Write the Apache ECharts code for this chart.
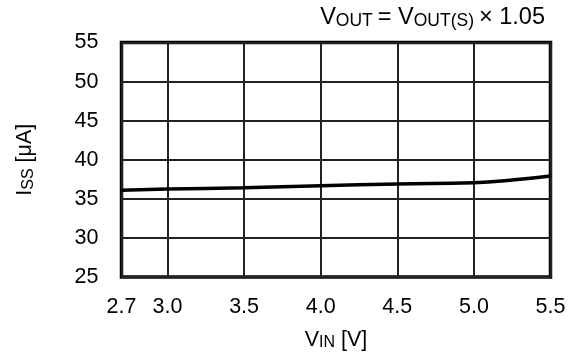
<!DOCTYPE html>
<html>
<head>
<meta charset="utf-8">
<script src="https://cdn.jsdelivr.net/npm/echarts@6/dist/echarts.min.js"></script>
<style>
html,body{margin:0;padding:0;background:#fff;}
#chart{width:579px;height:359px;}
</style>
</head>
<body>
<div id="chart"></div>
<script>
// Data
const vin = [2.7, 3.0, 3.5, 4.0, 4.5, 5.0, 5.25, 5.5];
const iss = [36.1, 36.25, 36.42, 36.67, 36.9, 37.06, 37.4, 37.92];
const xTicks = [2.7, 3.0, 3.5, 4.0, 4.5, 5.0, 5.5];
const yTicks = [25, 30, 35, 40, 45, 50, 55];

const FONT = '"Liberation Sans", Arial, sans-serif';
const FS = 21.5;
const FSS = 16;
const chart = echarts.init(document.getElementById('chart'), null, {renderer: 'canvas'});

const rich = {
  a: {fontSize: FS, color: '#000', fontFamily: FONT, fontWeight: 'normal'},
  b: {fontSize: FSS, color: '#000', fontFamily: FONT, fontWeight: 'normal', verticalAlign: 'bottom'}
};
const titleRich = {
  a: {fontSize: 23.5, color: '#000', fontFamily: FONT, fontWeight: 'normal'},
  b: {fontSize: 17.5, color: '#000', fontFamily: FONT, fontWeight: 'normal', verticalAlign: 'bottom'}
};

chart.setOption({
  animation: false,
  backgroundColor: '#fff',
  textStyle: {fontFamily: FONT, color: '#000'},
  title: {
    text: '{a|V}{b|OUT} {a|= V}{b|OUT(S)} {a|× 1.05}',
    right: 29,
    top: 1,
    textStyle: {fontFamily: FONT, fontWeight: 'normal', rich: titleRich}
  },
  grid: {
    left: 121.5, right: 28.5, top: 42.5, bottom: 82,
    show: true, borderColor: '#000', borderWidth: 3.5, backgroundColor: 'transparent'
  },
  xAxis: {
    type: 'value',
    min: 2.7, max: 5.5,
    name: '{a|V}{b|IN}{a| [V]}',
    nameLocation: 'middle',
    nameGap: 52,
    nameTextStyle: {rich: rich},
    axisLine: {show: false},
    axisTick: {show: false, customValues: xTicks},
    axisLabel: {
      customValues: xTicks,
      fontSize: FS, color: '#000', fontFamily: FONT, margin: 19,
      formatter: v => v.toFixed(1)
    },
    splitLine: {show: true, lineStyle: {color: '#222', width: 2}}
  },
  yAxis: {
    type: 'value',
    min: 25, max: 55, interval: 5,
    name: '{a|I}{b|SS}{a| [μA]}',
    nameLocation: 'middle',
    nameGap: 85,
    nameTextStyle: {rich: rich},
    axisLine: {show: false},
    axisTick: {show: false},
    axisLabel: {fontSize: FS, color: '#000', fontFamily: FONT, margin: 23},
    splitLine: {show: true, lineStyle: {color: '#222', width: 2}}
  },
  series: [{
    type: 'line',
    data: vin.map((x, i) => [x, iss[i]]),
    smooth: true,
    symbol: 'none',
    lineStyle: {color: '#000', width: 3.5},
    z: 5
  }]
});
</script>
</body>
</html>
